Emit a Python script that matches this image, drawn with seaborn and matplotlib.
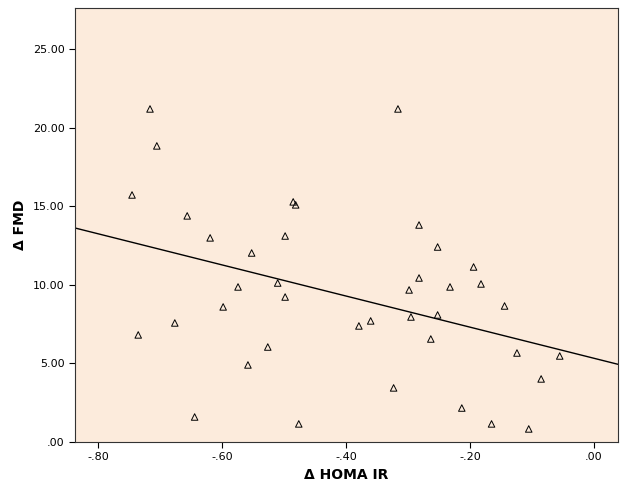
import numpy as np
import matplotlib
matplotlib.use("Agg")
import matplotlib.pyplot as plt
import seaborn as sns
from matplotlib.ticker import FuncFormatter

homa = [-0.716,-0.745,-0.705,-0.735,-0.656,-0.676,-0.619,-0.644,-0.598,-0.574,
        -0.552,-0.558,-0.526,-0.510,-0.498,-0.498,-0.485,-0.481,-0.476,-0.379,
        -0.360,-0.316,-0.323,-0.298,-0.295,-0.282,-0.282,-0.263,-0.252,-0.252,
        -0.232,-0.213,-0.194,-0.182,-0.165,-0.144,-0.124,-0.105,-0.085,-0.055]
fmd = [21.18,15.71,18.83,6.81,14.38,7.57,12.98,1.59,8.59,9.86,
       12.02,4.90,6.04,10.11,13.10,9.22,15.27,15.08,1.15,7.38,
       7.70,21.18,3.44,9.67,7.95,13.80,10.43,6.55,12.40,8.08,
       9.86,2.16,11.13,10.05,1.15,8.65,5.66,0.83,4.01,5.47]
xticks = [-0.8,-0.6,-0.4,-0.2,0.0]
yticks = [0,5,10,15,20,25]

sns.set_style("ticks")
fig = plt.figure(figsize=(6.26,5.01), dpi=100)
ax = fig.add_axes([75/626, 1-442/501, 543/626, 434/501])
ax.set_facecolor("#FCEBDC")
xlim = (-0.837, 0.039); ylim = (0, 27.6)
ax.set_xlim(xlim); ax.set_ylim(ylim)
sns.scatterplot(x=homa, y=fmd, marker="^", s=22, facecolor="none",
                edgecolor="black", linewidth=0.7, ax=ax)
b, a = np.polyfit(homa, fmd, 1)
xs = np.array(xlim)
ax.plot(xs, a + b*xs, color="black", lw=1)
ax.set_xlim(xlim); ax.set_ylim(ylim)
fmt = lambda v, p: ("%.2f" % v).replace("0.", ".", 1) if abs(v) < 1 else "%.2f" % v
ax.xaxis.set_major_formatter(FuncFormatter(fmt))
ax.yaxis.set_major_formatter(FuncFormatter(fmt))
ax.set_xticks(xticks); ax.set_yticks(yticks)
ax.tick_params(labelsize=8, length=4, colors="black")
ax.set_xlabel("Δ HOMA IR", fontsize=10, fontweight="bold", color="black")
ax.set_ylabel("Δ FMD", fontsize=10, fontweight="bold", color="black")
for s in ax.spines.values():
    s.set_visible(True); s.set_color("#333333")
fig.savefig("out.png", dpi=100)
